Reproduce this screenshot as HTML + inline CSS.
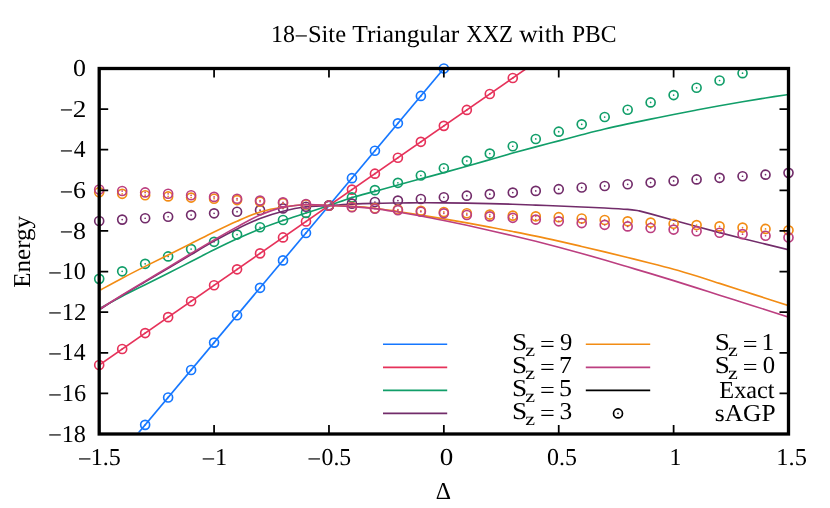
<!DOCTYPE html>
<html><head><meta charset="utf-8"><title>18-Site Triangular XXZ with PBC</title>
<style>
html,body{margin:0;padding:0;background:#fff;}
svg{display:block;will-change:transform;}
text{font-family:"Liberation Serif",serif;font-size:24.3px;fill:#000;text-rendering:geometricPrecision;}
</style></head><body>
<svg width="830" height="508" viewBox="0 0 830 508">
<defs><clipPath id="pc"><rect x="100.7" y="70.0" width="686.30" height="362.50"/></clipPath></defs>
<rect width="830" height="508" fill="#fff"/>
<path d="M134.09,438.06 L443.85,68.50" stroke="#1577ff" stroke-width="1.65" fill="none" clip-path="url(#pc)"/>
<circle cx="145.15" cy="424.86" r="4.5" fill="none" stroke="#1577ff" stroke-width="1.65"/><circle cx="145.15" cy="424.86" r="0.85" fill="#1577ff"/>
<circle cx="168.13" cy="397.45" r="4.5" fill="none" stroke="#1577ff" stroke-width="1.65"/><circle cx="168.13" cy="397.45" r="0.85" fill="#1577ff"/>
<circle cx="191.11" cy="370.04" r="4.5" fill="none" stroke="#1577ff" stroke-width="1.65"/><circle cx="191.11" cy="370.04" r="0.85" fill="#1577ff"/>
<circle cx="214.08" cy="342.62" r="4.5" fill="none" stroke="#1577ff" stroke-width="1.65"/><circle cx="214.08" cy="342.62" r="0.85" fill="#1577ff"/>
<circle cx="237.06" cy="315.21" r="4.5" fill="none" stroke="#1577ff" stroke-width="1.65"/><circle cx="237.06" cy="315.21" r="0.85" fill="#1577ff"/>
<circle cx="260.04" cy="287.80" r="4.5" fill="none" stroke="#1577ff" stroke-width="1.65"/><circle cx="260.04" cy="287.80" r="0.85" fill="#1577ff"/>
<circle cx="283.01" cy="260.39" r="4.5" fill="none" stroke="#1577ff" stroke-width="1.65"/><circle cx="283.01" cy="260.39" r="0.85" fill="#1577ff"/>
<circle cx="305.99" cy="232.97" r="4.5" fill="none" stroke="#1577ff" stroke-width="1.65"/><circle cx="305.99" cy="232.97" r="0.85" fill="#1577ff"/>
<circle cx="328.97" cy="205.56" r="4.5" fill="none" stroke="#1577ff" stroke-width="1.65"/><circle cx="328.97" cy="205.56" r="0.85" fill="#1577ff"/>
<circle cx="351.94" cy="178.15" r="4.5" fill="none" stroke="#1577ff" stroke-width="1.65"/><circle cx="351.94" cy="178.15" r="0.85" fill="#1577ff"/>
<circle cx="374.92" cy="150.74" r="4.5" fill="none" stroke="#1577ff" stroke-width="1.65"/><circle cx="374.92" cy="150.74" r="0.85" fill="#1577ff"/>
<circle cx="397.90" cy="123.33" r="4.5" fill="none" stroke="#1577ff" stroke-width="1.65"/><circle cx="397.90" cy="123.33" r="0.85" fill="#1577ff"/>
<circle cx="420.87" cy="95.91" r="4.5" fill="none" stroke="#1577ff" stroke-width="1.65"/><circle cx="420.87" cy="95.91" r="0.85" fill="#1577ff"/>
<circle cx="443.85" cy="68.50" r="4.5" fill="none" stroke="#1577ff" stroke-width="1.65"/><circle cx="443.85" cy="68.50" r="0.85" fill="#1577ff"/>
<path d="M99.20,364.96 L535.76,62.10" stroke="#e6325a" stroke-width="1.65" fill="none" clip-path="url(#pc)"/>
<circle cx="99.20" cy="364.96" r="4.5" fill="none" stroke="#e6325a" stroke-width="1.65"/><circle cx="99.20" cy="364.96" r="0.85" fill="#e6325a"/>
<circle cx="122.18" cy="349.02" r="4.5" fill="none" stroke="#e6325a" stroke-width="1.65"/><circle cx="122.18" cy="349.02" r="0.85" fill="#e6325a"/>
<circle cx="145.15" cy="333.08" r="4.5" fill="none" stroke="#e6325a" stroke-width="1.65"/><circle cx="145.15" cy="333.08" r="0.85" fill="#e6325a"/>
<circle cx="168.13" cy="317.14" r="4.5" fill="none" stroke="#e6325a" stroke-width="1.65"/><circle cx="168.13" cy="317.14" r="0.85" fill="#e6325a"/>
<circle cx="191.11" cy="301.20" r="4.5" fill="none" stroke="#e6325a" stroke-width="1.65"/><circle cx="191.11" cy="301.20" r="0.85" fill="#e6325a"/>
<circle cx="214.08" cy="285.26" r="4.5" fill="none" stroke="#e6325a" stroke-width="1.65"/><circle cx="214.08" cy="285.26" r="0.85" fill="#e6325a"/>
<circle cx="237.06" cy="269.32" r="4.5" fill="none" stroke="#e6325a" stroke-width="1.65"/><circle cx="237.06" cy="269.32" r="0.85" fill="#e6325a"/>
<circle cx="260.04" cy="253.38" r="4.5" fill="none" stroke="#e6325a" stroke-width="1.65"/><circle cx="260.04" cy="253.38" r="0.85" fill="#e6325a"/>
<circle cx="283.01" cy="237.44" r="4.5" fill="none" stroke="#e6325a" stroke-width="1.65"/><circle cx="283.01" cy="237.44" r="0.85" fill="#e6325a"/>
<circle cx="305.99" cy="221.50" r="4.5" fill="none" stroke="#e6325a" stroke-width="1.65"/><circle cx="305.99" cy="221.50" r="0.85" fill="#e6325a"/>
<circle cx="328.97" cy="205.56" r="4.5" fill="none" stroke="#e6325a" stroke-width="1.65"/><circle cx="328.97" cy="205.56" r="0.85" fill="#e6325a"/>
<circle cx="351.94" cy="189.62" r="4.5" fill="none" stroke="#e6325a" stroke-width="1.65"/><circle cx="351.94" cy="189.62" r="0.85" fill="#e6325a"/>
<circle cx="374.92" cy="173.68" r="4.5" fill="none" stroke="#e6325a" stroke-width="1.65"/><circle cx="374.92" cy="173.68" r="0.85" fill="#e6325a"/>
<circle cx="397.90" cy="157.74" r="4.5" fill="none" stroke="#e6325a" stroke-width="1.65"/><circle cx="397.90" cy="157.74" r="0.85" fill="#e6325a"/>
<circle cx="420.87" cy="141.80" r="4.5" fill="none" stroke="#e6325a" stroke-width="1.65"/><circle cx="420.87" cy="141.80" r="0.85" fill="#e6325a"/>
<circle cx="443.85" cy="125.86" r="4.5" fill="none" stroke="#e6325a" stroke-width="1.65"/><circle cx="443.85" cy="125.86" r="0.85" fill="#e6325a"/>
<circle cx="466.83" cy="109.92" r="4.5" fill="none" stroke="#e6325a" stroke-width="1.65"/><circle cx="466.83" cy="109.92" r="0.85" fill="#e6325a"/>
<circle cx="489.80" cy="93.98" r="4.5" fill="none" stroke="#e6325a" stroke-width="1.65"/><circle cx="489.80" cy="93.98" r="0.85" fill="#e6325a"/>
<circle cx="512.78" cy="78.04" r="4.5" fill="none" stroke="#e6325a" stroke-width="1.65"/><circle cx="512.78" cy="78.04" r="0.85" fill="#e6325a"/>
<path d="M99.20,308.71 C103.03,306.65 114.52,300.32 122.18,296.33 C129.84,292.33 137.49,288.59 145.15,284.75 C152.81,280.92 160.47,277.21 168.13,273.33 C175.79,269.46 183.45,265.44 191.11,261.50 C198.77,257.57 206.42,253.52 214.08,249.73 C221.74,245.94 229.40,242.23 237.06,238.76 C244.72,235.29 252.38,231.94 260.04,228.91 C267.70,225.88 275.35,223.23 283.01,220.59 C290.67,217.95 298.33,215.58 305.99,213.08 C313.65,210.57 321.31,208.13 328.97,205.56 C336.63,202.99 344.28,200.01 351.94,197.64 C359.60,195.27 367.26,193.45 374.92,191.35 C382.58,189.25 390.24,187.14 397.90,185.05 C405.56,182.96 413.21,180.88 420.87,178.81 C428.53,176.74 436.19,174.71 443.85,172.62 C451.51,170.53 459.17,168.43 466.83,166.27 C474.49,164.11 482.14,161.87 489.80,159.67 C497.46,157.47 505.12,155.21 512.78,153.07 C520.44,150.93 528.10,148.87 535.76,146.83 C543.42,144.79 551.07,142.84 558.73,140.84 C566.39,138.83 574.05,136.77 581.71,134.80 C589.37,132.83 597.03,130.83 604.69,129.01 C612.35,127.19 620.00,125.52 627.66,123.88 C635.32,122.24 642.98,120.73 650.64,119.16 C658.30,117.60 665.96,116.01 673.62,114.49 C681.28,112.97 688.93,111.47 696.59,110.02 C704.25,108.58 711.91,107.19 719.57,105.81 C727.23,104.43 734.89,103.05 742.55,101.75 C750.21,100.45 757.86,99.20 765.52,97.99 C773.18,96.78 784.67,95.07 788.50,94.49" fill="none" stroke="#119e69" stroke-width="1.65" stroke-linejoin="round" clip-path="url(#pc)"/>
<circle cx="99.20" cy="278.87" r="4.5" fill="none" stroke="#119e69" stroke-width="1.65"/><circle cx="99.20" cy="278.87" r="0.85" fill="#119e69"/>
<circle cx="122.18" cy="271.35" r="4.5" fill="none" stroke="#119e69" stroke-width="1.65"/><circle cx="122.18" cy="271.35" r="0.85" fill="#119e69"/>
<circle cx="145.15" cy="263.84" r="4.5" fill="none" stroke="#119e69" stroke-width="1.65"/><circle cx="145.15" cy="263.84" r="0.85" fill="#119e69"/>
<circle cx="168.13" cy="256.43" r="4.5" fill="none" stroke="#119e69" stroke-width="1.65"/><circle cx="168.13" cy="256.43" r="0.85" fill="#119e69"/>
<circle cx="191.11" cy="249.12" r="4.5" fill="none" stroke="#119e69" stroke-width="1.65"/><circle cx="191.11" cy="249.12" r="0.85" fill="#119e69"/>
<circle cx="214.08" cy="241.81" r="4.5" fill="none" stroke="#119e69" stroke-width="1.65"/><circle cx="214.08" cy="241.81" r="0.85" fill="#119e69"/>
<circle cx="237.06" cy="234.55" r="4.5" fill="none" stroke="#119e69" stroke-width="1.65"/><circle cx="237.06" cy="234.55" r="0.85" fill="#119e69"/>
<circle cx="260.04" cy="227.29" r="4.5" fill="none" stroke="#119e69" stroke-width="1.65"/><circle cx="260.04" cy="227.29" r="0.85" fill="#119e69"/>
<circle cx="283.01" cy="220.03" r="4.5" fill="none" stroke="#119e69" stroke-width="1.65"/><circle cx="283.01" cy="220.03" r="0.85" fill="#119e69"/>
<circle cx="305.99" cy="212.87" r="4.5" fill="none" stroke="#119e69" stroke-width="1.65"/><circle cx="305.99" cy="212.87" r="0.85" fill="#119e69"/>
<circle cx="328.97" cy="205.56" r="4.5" fill="none" stroke="#119e69" stroke-width="1.65"/><circle cx="328.97" cy="205.56" r="0.85" fill="#119e69"/>
<circle cx="351.94" cy="197.44" r="4.5" fill="none" stroke="#119e69" stroke-width="1.65"/><circle cx="351.94" cy="197.44" r="0.85" fill="#119e69"/>
<circle cx="374.92" cy="190.13" r="4.5" fill="none" stroke="#119e69" stroke-width="1.65"/><circle cx="374.92" cy="190.13" r="0.85" fill="#119e69"/>
<circle cx="397.90" cy="182.82" r="4.5" fill="none" stroke="#119e69" stroke-width="1.65"/><circle cx="397.90" cy="182.82" r="0.85" fill="#119e69"/>
<circle cx="420.87" cy="175.51" r="4.5" fill="none" stroke="#119e69" stroke-width="1.65"/><circle cx="420.87" cy="175.51" r="0.85" fill="#119e69"/>
<circle cx="443.85" cy="168.20" r="4.5" fill="none" stroke="#119e69" stroke-width="1.65"/><circle cx="443.85" cy="168.20" r="0.85" fill="#119e69"/>
<circle cx="466.83" cy="160.89" r="4.5" fill="none" stroke="#119e69" stroke-width="1.65"/><circle cx="466.83" cy="160.89" r="0.85" fill="#119e69"/>
<circle cx="489.80" cy="153.58" r="4.5" fill="none" stroke="#119e69" stroke-width="1.65"/><circle cx="489.80" cy="153.58" r="0.85" fill="#119e69"/>
<circle cx="512.78" cy="146.27" r="4.5" fill="none" stroke="#119e69" stroke-width="1.65"/><circle cx="512.78" cy="146.27" r="0.85" fill="#119e69"/>
<circle cx="535.76" cy="138.96" r="4.5" fill="none" stroke="#119e69" stroke-width="1.65"/><circle cx="535.76" cy="138.96" r="0.85" fill="#119e69"/>
<circle cx="558.73" cy="131.65" r="4.5" fill="none" stroke="#119e69" stroke-width="1.65"/><circle cx="558.73" cy="131.65" r="0.85" fill="#119e69"/>
<circle cx="581.71" cy="124.34" r="4.5" fill="none" stroke="#119e69" stroke-width="1.65"/><circle cx="581.71" cy="124.34" r="0.85" fill="#119e69"/>
<circle cx="604.69" cy="117.03" r="4.5" fill="none" stroke="#119e69" stroke-width="1.65"/><circle cx="604.69" cy="117.03" r="0.85" fill="#119e69"/>
<circle cx="627.66" cy="109.72" r="4.5" fill="none" stroke="#119e69" stroke-width="1.65"/><circle cx="627.66" cy="109.72" r="0.85" fill="#119e69"/>
<circle cx="650.64" cy="102.41" r="4.5" fill="none" stroke="#119e69" stroke-width="1.65"/><circle cx="650.64" cy="102.41" r="0.85" fill="#119e69"/>
<circle cx="673.62" cy="95.10" r="4.5" fill="none" stroke="#119e69" stroke-width="1.65"/><circle cx="673.62" cy="95.10" r="0.85" fill="#119e69"/>
<circle cx="696.59" cy="87.79" r="4.5" fill="none" stroke="#119e69" stroke-width="1.65"/><circle cx="696.59" cy="87.79" r="0.85" fill="#119e69"/>
<circle cx="719.57" cy="80.48" r="4.5" fill="none" stroke="#119e69" stroke-width="1.65"/><circle cx="719.57" cy="80.48" r="0.85" fill="#119e69"/>
<circle cx="742.55" cy="73.17" r="4.5" fill="none" stroke="#119e69" stroke-width="1.65"/><circle cx="742.55" cy="73.17" r="0.85" fill="#119e69"/>
<path d="M99.20,309.73 C103.03,307.34 114.52,300.08 122.18,295.41 C129.84,290.75 137.49,286.29 145.15,281.76 C152.81,277.23 160.47,272.79 168.13,268.26 C175.79,263.72 183.45,259.08 191.11,254.55 C198.77,250.02 206.42,245.37 214.08,241.10 C221.74,236.82 229.40,232.67 237.06,228.91 C244.72,225.16 252.38,221.50 260.04,218.56 C267.70,215.61 275.35,213.21 283.01,211.25 C290.67,209.29 298.33,207.73 305.99,206.78 C313.65,205.83 321.31,206.00 328.97,205.56 C336.63,205.12 344.28,204.51 351.94,204.14 C359.60,203.77 367.26,203.52 374.92,203.33 C382.58,203.13 390.24,203.07 397.90,202.97 C405.56,202.88 413.21,202.80 420.87,202.77 C428.53,202.75 436.19,202.76 443.85,202.82 C451.51,202.88 459.17,203.00 466.83,203.13 C474.49,203.25 482.14,203.40 489.80,203.58 C497.46,203.77 505.12,203.99 512.78,204.24 C520.44,204.50 528.10,204.81 535.76,205.11 C543.42,205.40 551.07,205.71 558.73,206.02 C566.39,206.33 574.05,206.65 581.71,206.98 C589.37,207.31 597.03,207.59 604.69,208.00 C612.35,208.41 621.92,208.95 627.66,209.42 C633.41,209.89 637.24,210.61 639.15,210.84 L650.64,213.89 L673.62,220.18 L696.59,226.58 L719.57,232.67 L742.55,238.46 L765.52,244.14 L788.50,249.83" fill="none" stroke="#722c6a" stroke-width="1.65" stroke-linejoin="round" clip-path="url(#pc)"/>
<circle cx="99.20" cy="220.99" r="4.5" fill="none" stroke="#722c6a" stroke-width="1.65"/><circle cx="99.20" cy="220.99" r="0.85" fill="#722c6a"/>
<circle cx="122.18" cy="219.62" r="4.5" fill="none" stroke="#722c6a" stroke-width="1.65"/><circle cx="122.18" cy="219.62" r="0.85" fill="#722c6a"/>
<circle cx="145.15" cy="218.25" r="4.5" fill="none" stroke="#722c6a" stroke-width="1.65"/><circle cx="145.15" cy="218.25" r="0.85" fill="#722c6a"/>
<circle cx="168.13" cy="216.73" r="4.5" fill="none" stroke="#722c6a" stroke-width="1.65"/><circle cx="168.13" cy="216.73" r="0.85" fill="#722c6a"/>
<circle cx="191.11" cy="215.06" r="4.5" fill="none" stroke="#722c6a" stroke-width="1.65"/><circle cx="191.11" cy="215.06" r="0.85" fill="#722c6a"/>
<circle cx="214.08" cy="213.33" r="4.5" fill="none" stroke="#722c6a" stroke-width="1.65"/><circle cx="214.08" cy="213.33" r="0.85" fill="#722c6a"/>
<circle cx="237.06" cy="211.70" r="4.5" fill="none" stroke="#722c6a" stroke-width="1.65"/><circle cx="237.06" cy="211.70" r="0.85" fill="#722c6a"/>
<circle cx="260.04" cy="210.13" r="4.5" fill="none" stroke="#722c6a" stroke-width="1.65"/><circle cx="260.04" cy="210.13" r="0.85" fill="#722c6a"/>
<circle cx="283.01" cy="208.41" r="4.5" fill="none" stroke="#722c6a" stroke-width="1.65"/><circle cx="283.01" cy="208.41" r="0.85" fill="#722c6a"/>
<circle cx="305.99" cy="206.78" r="4.5" fill="none" stroke="#722c6a" stroke-width="1.65"/><circle cx="305.99" cy="206.78" r="0.85" fill="#722c6a"/>
<circle cx="328.97" cy="205.31" r="4.5" fill="none" stroke="#722c6a" stroke-width="1.65"/><circle cx="328.97" cy="205.31" r="0.85" fill="#722c6a"/>
<circle cx="351.94" cy="203.63" r="4.5" fill="none" stroke="#722c6a" stroke-width="1.65"/><circle cx="351.94" cy="203.63" r="0.85" fill="#722c6a"/>
<circle cx="374.92" cy="202.01" r="4.5" fill="none" stroke="#722c6a" stroke-width="1.65"/><circle cx="374.92" cy="202.01" r="0.85" fill="#722c6a"/>
<circle cx="397.90" cy="200.59" r="4.5" fill="none" stroke="#722c6a" stroke-width="1.65"/><circle cx="397.90" cy="200.59" r="0.85" fill="#722c6a"/>
<circle cx="420.87" cy="199.01" r="4.5" fill="none" stroke="#722c6a" stroke-width="1.65"/><circle cx="420.87" cy="199.01" r="0.85" fill="#722c6a"/>
<circle cx="443.85" cy="197.29" r="4.5" fill="none" stroke="#722c6a" stroke-width="1.65"/><circle cx="443.85" cy="197.29" r="0.85" fill="#722c6a"/>
<circle cx="466.83" cy="195.66" r="4.5" fill="none" stroke="#722c6a" stroke-width="1.65"/><circle cx="466.83" cy="195.66" r="0.85" fill="#722c6a"/>
<circle cx="489.80" cy="194.14" r="4.5" fill="none" stroke="#722c6a" stroke-width="1.65"/><circle cx="489.80" cy="194.14" r="0.85" fill="#722c6a"/>
<circle cx="512.78" cy="192.57" r="4.5" fill="none" stroke="#722c6a" stroke-width="1.65"/><circle cx="512.78" cy="192.57" r="0.85" fill="#722c6a"/>
<circle cx="535.76" cy="190.89" r="4.5" fill="none" stroke="#722c6a" stroke-width="1.65"/><circle cx="535.76" cy="190.89" r="0.85" fill="#722c6a"/>
<circle cx="558.73" cy="189.17" r="4.5" fill="none" stroke="#722c6a" stroke-width="1.65"/><circle cx="558.73" cy="189.17" r="0.85" fill="#722c6a"/>
<circle cx="581.71" cy="187.54" r="4.5" fill="none" stroke="#722c6a" stroke-width="1.65"/><circle cx="581.71" cy="187.54" r="0.85" fill="#722c6a"/>
<circle cx="604.69" cy="185.97" r="4.5" fill="none" stroke="#722c6a" stroke-width="1.65"/><circle cx="604.69" cy="185.97" r="0.85" fill="#722c6a"/>
<circle cx="627.66" cy="184.29" r="4.5" fill="none" stroke="#722c6a" stroke-width="1.65"/><circle cx="627.66" cy="184.29" r="0.85" fill="#722c6a"/>
<circle cx="650.64" cy="182.57" r="4.5" fill="none" stroke="#722c6a" stroke-width="1.65"/><circle cx="650.64" cy="182.57" r="0.85" fill="#722c6a"/>
<circle cx="673.62" cy="180.94" r="4.5" fill="none" stroke="#722c6a" stroke-width="1.65"/><circle cx="673.62" cy="180.94" r="0.85" fill="#722c6a"/>
<circle cx="696.59" cy="179.42" r="4.5" fill="none" stroke="#722c6a" stroke-width="1.65"/><circle cx="696.59" cy="179.42" r="0.85" fill="#722c6a"/>
<circle cx="719.57" cy="177.85" r="4.5" fill="none" stroke="#722c6a" stroke-width="1.65"/><circle cx="719.57" cy="177.85" r="0.85" fill="#722c6a"/>
<circle cx="742.55" cy="176.27" r="4.5" fill="none" stroke="#722c6a" stroke-width="1.65"/><circle cx="742.55" cy="176.27" r="0.85" fill="#722c6a"/>
<circle cx="765.52" cy="174.65" r="4.5" fill="none" stroke="#722c6a" stroke-width="1.65"/><circle cx="765.52" cy="174.65" r="0.85" fill="#722c6a"/>
<circle cx="788.50" cy="172.87" r="4.5" fill="none" stroke="#722c6a" stroke-width="1.65"/><circle cx="788.50" cy="172.87" r="0.85" fill="#722c6a"/>
<path d="M99.20,290.64 C103.03,288.57 114.52,282.25 122.18,278.21 C129.84,274.16 137.49,270.26 145.15,266.38 C152.81,262.49 160.47,258.71 168.13,254.91 C175.79,251.10 183.45,247.36 191.11,243.53 C198.77,239.71 206.42,235.68 214.08,231.96 C221.74,228.24 229.40,224.51 237.06,221.20 C244.72,217.88 252.38,214.43 260.04,212.06 C267.70,209.69 275.35,208.20 283.01,206.98 C290.67,205.77 298.33,204.99 305.99,204.75 C313.65,204.51 321.31,205.29 328.97,205.56 C336.63,205.83 344.28,205.93 351.94,206.37 C359.60,206.81 367.26,207.36 374.92,208.20 C382.58,209.05 390.24,210.31 397.90,211.45 C405.56,212.59 413.21,213.82 420.87,215.06 C428.53,216.29 436.19,217.56 443.85,218.86 C451.51,220.17 459.17,221.49 466.83,222.87 C474.49,224.25 482.14,225.70 489.80,227.14 C497.46,228.58 505.12,230.01 512.78,231.50 C520.44,232.99 528.10,234.47 535.76,236.07 C543.42,237.67 551.07,239.37 558.73,241.10 C566.39,242.82 574.05,244.63 581.71,246.43 C589.37,248.23 597.03,250.06 604.69,251.91 C612.35,253.76 620.00,255.66 627.66,257.54 C635.32,259.43 642.98,261.28 650.64,263.23 C658.30,265.18 665.96,267.13 673.62,269.27 C681.28,271.41 688.93,273.72 696.59,276.07 C704.25,278.43 711.91,280.93 719.57,283.38 C727.23,285.84 734.89,288.32 742.55,290.80 C750.21,293.27 757.86,295.73 765.52,298.21 C773.18,300.69 784.67,304.43 788.50,305.67" fill="none" stroke="#f28c14" stroke-width="1.65" stroke-linejoin="round" clip-path="url(#pc)"/>
<circle cx="99.20" cy="192.16" r="4.5" fill="none" stroke="#f28c14" stroke-width="1.65"/><circle cx="99.20" cy="192.16" r="0.85" fill="#f28c14"/>
<circle cx="122.18" cy="193.84" r="4.5" fill="none" stroke="#f28c14" stroke-width="1.65"/><circle cx="122.18" cy="193.84" r="0.85" fill="#f28c14"/>
<circle cx="145.15" cy="195.21" r="4.5" fill="none" stroke="#f28c14" stroke-width="1.65"/><circle cx="145.15" cy="195.21" r="0.85" fill="#f28c14"/>
<circle cx="168.13" cy="196.43" r="4.5" fill="none" stroke="#f28c14" stroke-width="1.65"/><circle cx="168.13" cy="196.43" r="0.85" fill="#f28c14"/>
<circle cx="191.11" cy="197.59" r="4.5" fill="none" stroke="#f28c14" stroke-width="1.65"/><circle cx="191.11" cy="197.59" r="0.85" fill="#f28c14"/>
<circle cx="214.08" cy="198.71" r="4.5" fill="none" stroke="#f28c14" stroke-width="1.65"/><circle cx="214.08" cy="198.71" r="0.85" fill="#f28c14"/>
<circle cx="237.06" cy="200.08" r="4.5" fill="none" stroke="#f28c14" stroke-width="1.65"/><circle cx="237.06" cy="200.08" r="0.85" fill="#f28c14"/>
<circle cx="260.04" cy="201.70" r="4.5" fill="none" stroke="#f28c14" stroke-width="1.65"/><circle cx="260.04" cy="201.70" r="0.85" fill="#f28c14"/>
<circle cx="283.01" cy="203.18" r="4.5" fill="none" stroke="#f28c14" stroke-width="1.65"/><circle cx="283.01" cy="203.18" r="0.85" fill="#f28c14"/>
<circle cx="305.99" cy="204.45" r="4.5" fill="none" stroke="#f28c14" stroke-width="1.65"/><circle cx="305.99" cy="204.45" r="0.85" fill="#f28c14"/>
<circle cx="328.97" cy="205.66" r="4.5" fill="none" stroke="#f28c14" stroke-width="1.65"/><circle cx="328.97" cy="205.66" r="0.85" fill="#f28c14"/>
<circle cx="351.94" cy="206.93" r="4.5" fill="none" stroke="#f28c14" stroke-width="1.65"/><circle cx="351.94" cy="206.93" r="0.85" fill="#f28c14"/>
<circle cx="374.92" cy="208.25" r="4.5" fill="none" stroke="#f28c14" stroke-width="1.65"/><circle cx="374.92" cy="208.25" r="0.85" fill="#f28c14"/>
<circle cx="397.90" cy="209.57" r="4.5" fill="none" stroke="#f28c14" stroke-width="1.65"/><circle cx="397.90" cy="209.57" r="0.85" fill="#f28c14"/>
<circle cx="420.87" cy="210.79" r="4.5" fill="none" stroke="#f28c14" stroke-width="1.65"/><circle cx="420.87" cy="210.79" r="0.85" fill="#f28c14"/>
<circle cx="443.85" cy="211.96" r="4.5" fill="none" stroke="#f28c14" stroke-width="1.65"/><circle cx="443.85" cy="211.96" r="0.85" fill="#f28c14"/>
<circle cx="466.83" cy="213.28" r="4.5" fill="none" stroke="#f28c14" stroke-width="1.65"/><circle cx="466.83" cy="213.28" r="0.85" fill="#f28c14"/>
<circle cx="489.80" cy="214.60" r="4.5" fill="none" stroke="#f28c14" stroke-width="1.65"/><circle cx="489.80" cy="214.60" r="0.85" fill="#f28c14"/>
<circle cx="512.78" cy="215.61" r="4.5" fill="none" stroke="#f28c14" stroke-width="1.65"/><circle cx="512.78" cy="215.61" r="0.85" fill="#f28c14"/>
<circle cx="535.76" cy="216.32" r="4.5" fill="none" stroke="#f28c14" stroke-width="1.65"/><circle cx="535.76" cy="216.32" r="0.85" fill="#f28c14"/>
<circle cx="558.73" cy="217.19" r="4.5" fill="none" stroke="#f28c14" stroke-width="1.65"/><circle cx="558.73" cy="217.19" r="0.85" fill="#f28c14"/>
<circle cx="581.71" cy="218.51" r="4.5" fill="none" stroke="#f28c14" stroke-width="1.65"/><circle cx="581.71" cy="218.51" r="0.85" fill="#f28c14"/>
<circle cx="604.69" cy="219.98" r="4.5" fill="none" stroke="#f28c14" stroke-width="1.65"/><circle cx="604.69" cy="219.98" r="0.85" fill="#f28c14"/>
<circle cx="627.66" cy="221.35" r="4.5" fill="none" stroke="#f28c14" stroke-width="1.65"/><circle cx="627.66" cy="221.35" r="0.85" fill="#f28c14"/>
<circle cx="650.64" cy="222.57" r="4.5" fill="none" stroke="#f28c14" stroke-width="1.65"/><circle cx="650.64" cy="222.57" r="0.85" fill="#f28c14"/>
<circle cx="673.62" cy="223.74" r="4.5" fill="none" stroke="#f28c14" stroke-width="1.65"/><circle cx="673.62" cy="223.74" r="0.85" fill="#f28c14"/>
<circle cx="696.59" cy="225.06" r="4.5" fill="none" stroke="#f28c14" stroke-width="1.65"/><circle cx="696.59" cy="225.06" r="0.85" fill="#f28c14"/>
<circle cx="719.57" cy="226.38" r="4.5" fill="none" stroke="#f28c14" stroke-width="1.65"/><circle cx="719.57" cy="226.38" r="0.85" fill="#f28c14"/>
<circle cx="742.55" cy="227.59" r="4.5" fill="none" stroke="#f28c14" stroke-width="1.65"/><circle cx="742.55" cy="227.59" r="0.85" fill="#f28c14"/>
<circle cx="765.52" cy="228.91" r="4.5" fill="none" stroke="#f28c14" stroke-width="1.65"/><circle cx="765.52" cy="228.91" r="0.85" fill="#f28c14"/>
<circle cx="788.50" cy="230.34" r="4.5" fill="none" stroke="#f28c14" stroke-width="1.65"/><circle cx="788.50" cy="230.34" r="0.85" fill="#f28c14"/>
<path d="M99.20,309.32 C103.03,306.93 114.52,299.66 122.18,294.96 C129.84,290.25 137.49,285.70 145.15,281.10 C152.81,276.50 160.47,271.94 168.13,267.34 C175.79,262.74 183.45,258.06 191.11,253.48 C198.77,248.91 206.42,244.31 214.08,239.88 C221.74,235.45 229.40,231.01 237.06,226.88 C244.72,222.75 252.38,218.35 260.04,215.11 C267.70,211.86 275.35,209.12 283.01,207.39 C290.67,205.66 298.33,205.05 305.99,204.75 C313.65,204.45 321.31,205.26 328.97,205.56 C336.63,205.87 344.28,206.07 351.94,206.58 C359.60,207.09 367.26,207.69 374.92,208.61 C382.58,209.52 390.24,210.83 397.90,212.06 C405.56,213.30 413.21,214.62 420.87,216.02 C428.53,217.42 436.19,218.94 443.85,220.49 C451.51,222.04 459.17,223.65 466.83,225.31 C474.49,226.97 482.14,228.69 489.80,230.44 C497.46,232.18 505.12,233.96 512.78,235.77 C520.44,237.58 528.10,239.40 535.76,241.30 C543.42,243.20 551.07,245.17 558.73,247.19 C566.39,249.21 574.05,251.29 581.71,253.43 C589.37,255.57 597.03,257.80 604.69,260.03 C612.35,262.27 620.00,264.57 627.66,266.83 C635.32,269.10 642.98,271.34 650.64,273.64 C658.30,275.93 665.96,278.22 673.62,280.59 C681.28,282.96 688.93,285.41 696.59,287.85 C704.25,290.29 711.91,292.77 719.57,295.21 C727.23,297.65 734.89,300.05 742.55,302.47 C750.21,304.89 757.86,307.30 765.52,309.73 C773.18,312.16 784.67,315.82 788.50,317.04" fill="none" stroke="#bc3f80" stroke-width="1.65" stroke-linejoin="round" clip-path="url(#pc)"/>
<circle cx="99.20" cy="189.52" r="4.5" fill="none" stroke="#bc3f80" stroke-width="1.65"/><circle cx="99.20" cy="189.52" r="0.85" fill="#bc3f80"/>
<circle cx="122.18" cy="191.04" r="4.5" fill="none" stroke="#bc3f80" stroke-width="1.65"/><circle cx="122.18" cy="191.04" r="0.85" fill="#bc3f80"/>
<circle cx="145.15" cy="192.41" r="4.5" fill="none" stroke="#bc3f80" stroke-width="1.65"/><circle cx="145.15" cy="192.41" r="0.85" fill="#bc3f80"/>
<circle cx="168.13" cy="193.79" r="4.5" fill="none" stroke="#bc3f80" stroke-width="1.65"/><circle cx="168.13" cy="193.79" r="0.85" fill="#bc3f80"/>
<circle cx="191.11" cy="195.26" r="4.5" fill="none" stroke="#bc3f80" stroke-width="1.65"/><circle cx="191.11" cy="195.26" r="0.85" fill="#bc3f80"/>
<circle cx="214.08" cy="196.88" r="4.5" fill="none" stroke="#bc3f80" stroke-width="1.65"/><circle cx="214.08" cy="196.88" r="0.85" fill="#bc3f80"/>
<circle cx="237.06" cy="198.71" r="4.5" fill="none" stroke="#bc3f80" stroke-width="1.65"/><circle cx="237.06" cy="198.71" r="0.85" fill="#bc3f80"/>
<circle cx="260.04" cy="200.59" r="4.5" fill="none" stroke="#bc3f80" stroke-width="1.65"/><circle cx="260.04" cy="200.59" r="0.85" fill="#bc3f80"/>
<circle cx="283.01" cy="202.36" r="4.5" fill="none" stroke="#bc3f80" stroke-width="1.65"/><circle cx="283.01" cy="202.36" r="0.85" fill="#bc3f80"/>
<circle cx="305.99" cy="204.04" r="4.5" fill="none" stroke="#bc3f80" stroke-width="1.65"/><circle cx="305.99" cy="204.04" r="0.85" fill="#bc3f80"/>
<circle cx="328.97" cy="205.66" r="4.5" fill="none" stroke="#bc3f80" stroke-width="1.65"/><circle cx="328.97" cy="205.66" r="0.85" fill="#bc3f80"/>
<circle cx="351.94" cy="207.24" r="4.5" fill="none" stroke="#bc3f80" stroke-width="1.65"/><circle cx="351.94" cy="207.24" r="0.85" fill="#bc3f80"/>
<circle cx="374.92" cy="208.71" r="4.5" fill="none" stroke="#bc3f80" stroke-width="1.65"/><circle cx="374.92" cy="208.71" r="0.85" fill="#bc3f80"/>
<circle cx="397.90" cy="210.18" r="4.5" fill="none" stroke="#bc3f80" stroke-width="1.65"/><circle cx="397.90" cy="210.18" r="0.85" fill="#bc3f80"/>
<circle cx="420.87" cy="211.70" r="4.5" fill="none" stroke="#bc3f80" stroke-width="1.65"/><circle cx="420.87" cy="211.70" r="0.85" fill="#bc3f80"/>
<circle cx="443.85" cy="213.33" r="4.5" fill="none" stroke="#bc3f80" stroke-width="1.65"/><circle cx="443.85" cy="213.33" r="0.85" fill="#bc3f80"/>
<circle cx="466.83" cy="214.95" r="4.5" fill="none" stroke="#bc3f80" stroke-width="1.65"/><circle cx="466.83" cy="214.95" r="0.85" fill="#bc3f80"/>
<circle cx="489.80" cy="216.38" r="4.5" fill="none" stroke="#bc3f80" stroke-width="1.65"/><circle cx="489.80" cy="216.38" r="0.85" fill="#bc3f80"/>
<circle cx="512.78" cy="217.85" r="4.5" fill="none" stroke="#bc3f80" stroke-width="1.65"/><circle cx="512.78" cy="217.85" r="0.85" fill="#bc3f80"/>
<circle cx="535.76" cy="219.57" r="4.5" fill="none" stroke="#bc3f80" stroke-width="1.65"/><circle cx="535.76" cy="219.57" r="0.85" fill="#bc3f80"/>
<circle cx="558.73" cy="221.35" r="4.5" fill="none" stroke="#bc3f80" stroke-width="1.65"/><circle cx="558.73" cy="221.35" r="0.85" fill="#bc3f80"/>
<circle cx="581.71" cy="223.08" r="4.5" fill="none" stroke="#bc3f80" stroke-width="1.65"/><circle cx="581.71" cy="223.08" r="0.85" fill="#bc3f80"/>
<circle cx="604.69" cy="224.80" r="4.5" fill="none" stroke="#bc3f80" stroke-width="1.65"/><circle cx="604.69" cy="224.80" r="0.85" fill="#bc3f80"/>
<circle cx="627.66" cy="226.43" r="4.5" fill="none" stroke="#bc3f80" stroke-width="1.65"/><circle cx="627.66" cy="226.43" r="0.85" fill="#bc3f80"/>
<circle cx="650.64" cy="227.95" r="4.5" fill="none" stroke="#bc3f80" stroke-width="1.65"/><circle cx="650.64" cy="227.95" r="0.85" fill="#bc3f80"/>
<circle cx="673.62" cy="229.57" r="4.5" fill="none" stroke="#bc3f80" stroke-width="1.65"/><circle cx="673.62" cy="229.57" r="0.85" fill="#bc3f80"/>
<circle cx="696.59" cy="231.25" r="4.5" fill="none" stroke="#bc3f80" stroke-width="1.65"/><circle cx="696.59" cy="231.25" r="0.85" fill="#bc3f80"/>
<circle cx="719.57" cy="232.72" r="4.5" fill="none" stroke="#bc3f80" stroke-width="1.65"/><circle cx="719.57" cy="232.72" r="0.85" fill="#bc3f80"/>
<circle cx="742.55" cy="234.14" r="4.5" fill="none" stroke="#bc3f80" stroke-width="1.65"/><circle cx="742.55" cy="234.14" r="0.85" fill="#bc3f80"/>
<circle cx="765.52" cy="235.77" r="4.5" fill="none" stroke="#bc3f80" stroke-width="1.65"/><circle cx="765.52" cy="235.77" r="0.85" fill="#bc3f80"/>
<circle cx="788.50" cy="237.44" r="4.5" fill="none" stroke="#bc3f80" stroke-width="1.65"/><circle cx="788.50" cy="237.44" r="0.85" fill="#bc3f80"/>
<path d="M383,344.2 H447.2" stroke="#1577ff" stroke-width="1.65"/>
<path d="M383,367.3 H447.2" stroke="#e6325a" stroke-width="1.65"/>
<path d="M383,390.3 H447.2" stroke="#119e69" stroke-width="1.65"/>
<path d="M383,413.4 H447.2" stroke="#722c6a" stroke-width="1.65"/>
<path d="M585.8,344.2 H650.2" stroke="#f28c14" stroke-width="1.65"/>
<path d="M585.8,367.3 H650.2" stroke="#bc3f80" stroke-width="1.65"/>
<path d="M585.8,390.3 H650.2" stroke="#000" stroke-width="1.65"/>
<circle cx="618" cy="413.4" r="4.5" fill="none" stroke="#000" stroke-width="1.65"/><circle cx="618" cy="413.4" r="0.85" fill="#000"/>
<path d="M99.20,434.0 v-9 M99.20,68.5 v9" stroke="#000" stroke-width="1.75"/>
<path d="M214.08,434.0 v-9 M214.08,68.5 v9" stroke="#000" stroke-width="1.75"/>
<path d="M328.97,434.0 v-9 M328.97,68.5 v9" stroke="#000" stroke-width="1.75"/>
<path d="M443.85,434.0 v-9 M443.85,68.5 v9" stroke="#000" stroke-width="1.75"/>
<path d="M558.73,434.0 v-9 M558.73,68.5 v9" stroke="#000" stroke-width="1.75"/>
<path d="M673.62,434.0 v-9 M673.62,68.5 v9" stroke="#000" stroke-width="1.75"/>
<path d="M788.50,434.0 v-9 M788.50,68.5 v9" stroke="#000" stroke-width="1.75"/>
<path d="M99.2,68.50 h9 M788.5,68.50 h-9" stroke="#000" stroke-width="1.75"/>
<path d="M99.2,109.11 h9 M788.5,109.11 h-9" stroke="#000" stroke-width="1.75"/>
<path d="M99.2,149.72 h9 M788.5,149.72 h-9" stroke="#000" stroke-width="1.75"/>
<path d="M99.2,190.33 h9 M788.5,190.33 h-9" stroke="#000" stroke-width="1.75"/>
<path d="M99.2,230.94 h9 M788.5,230.94 h-9" stroke="#000" stroke-width="1.75"/>
<path d="M99.2,271.56 h9 M788.5,271.56 h-9" stroke="#000" stroke-width="1.75"/>
<path d="M99.2,312.17 h9 M788.5,312.17 h-9" stroke="#000" stroke-width="1.75"/>
<path d="M99.2,352.78 h9 M788.5,352.78 h-9" stroke="#000" stroke-width="1.75"/>
<path d="M99.2,393.39 h9 M788.5,393.39 h-9" stroke="#000" stroke-width="1.75"/>
<path d="M99.2,434.00 h9 M788.5,434.00 h-9" stroke="#000" stroke-width="1.75"/>
<rect x="99.2" y="68.5" width="689.30" height="365.50" fill="none" stroke="#000" stroke-width="3.3"/>
<text x="271.09" y="41.90" textLength="23.96" lengthAdjust="spacingAndGlyphs">18</text>
<text x="307.92" y="41.90" textLength="38.17" lengthAdjust="spacingAndGlyphs">Site</text>
<text x="352.35" y="41.90" textLength="106.90" lengthAdjust="spacingAndGlyphs">Triangular</text>
<text x="466.22" y="41.90" textLength="46.80" lengthAdjust="spacingAndGlyphs">XXZ</text>
<text x="519.17" y="41.90" textLength="45.33" lengthAdjust="spacingAndGlyphs">with</text>
<text x="571.91" y="41.90" textLength="44.69" lengthAdjust="spacingAndGlyphs">PBC</text>
<text x="294.61" y="43.55" textLength="13.51" lengthAdjust="spacingAndGlyphs">−</text>
<text x="73.14" y="76.10" textLength="12.96" lengthAdjust="spacingAndGlyphs">0</text>
<text x="59.80" y="118.36" textLength="13.33" lengthAdjust="spacingAndGlyphs">−</text>
<text x="72.88" y="116.71" textLength="13.62" lengthAdjust="spacingAndGlyphs">2</text>
<text x="59.80" y="158.97" textLength="13.33" lengthAdjust="spacingAndGlyphs">−</text>
<text x="73.63" y="157.32" textLength="11.79" lengthAdjust="spacingAndGlyphs">4</text>
<text x="59.80" y="199.58" textLength="13.33" lengthAdjust="spacingAndGlyphs">−</text>
<text x="73.05" y="197.93" textLength="12.94" lengthAdjust="spacingAndGlyphs">6</text>
<text x="59.80" y="240.19" textLength="13.33" lengthAdjust="spacingAndGlyphs">−</text>
<text x="73.06" y="238.54" textLength="13.00" lengthAdjust="spacingAndGlyphs">8</text>
<text x="48.14" y="280.81" textLength="13.94" lengthAdjust="spacingAndGlyphs">−</text>
<text x="61.72" y="279.16" textLength="24.26" lengthAdjust="spacingAndGlyphs">10</text>
<text x="48.14" y="321.42" textLength="13.94" lengthAdjust="spacingAndGlyphs">−</text>
<text x="61.69" y="319.77" textLength="24.66" lengthAdjust="spacingAndGlyphs">12</text>
<text x="48.14" y="362.03" textLength="13.94" lengthAdjust="spacingAndGlyphs">−</text>
<text x="61.87" y="360.38" textLength="23.62" lengthAdjust="spacingAndGlyphs">14</text>
<text x="48.14" y="402.64" textLength="13.94" lengthAdjust="spacingAndGlyphs">−</text>
<text x="61.71" y="400.99" textLength="24.37" lengthAdjust="spacingAndGlyphs">16</text>
<text x="48.14" y="443.25" textLength="13.94" lengthAdjust="spacingAndGlyphs">−</text>
<text x="61.69" y="441.60" textLength="24.28" lengthAdjust="spacingAndGlyphs">18</text>
<text x="77.74" y="466.65" textLength="13.88" lengthAdjust="spacingAndGlyphs">−</text>
<text x="90.73" y="465.00" textLength="30.13" lengthAdjust="spacingAndGlyphs">1.5</text>
<text x="201.55" y="466.65" textLength="13.81" lengthAdjust="spacingAndGlyphs">−</text>
<text x="215.06" y="465.00" textLength="12.19" lengthAdjust="spacingAndGlyphs">1</text>
<text x="307.35" y="466.65" textLength="13.90" lengthAdjust="spacingAndGlyphs">−</text>
<text x="321.57" y="465.00" textLength="29.67" lengthAdjust="spacingAndGlyphs">0.5</text>
<text x="439.74" y="465.00" textLength="13.52" lengthAdjust="spacingAndGlyphs">0</text>
<text x="547.10" y="465.00" textLength="29.89" lengthAdjust="spacingAndGlyphs">0.5</text>
<text x="669.54" y="465.00" textLength="11.91" lengthAdjust="spacingAndGlyphs">1</text>
<text x="776.32" y="465.00" textLength="30.62" lengthAdjust="spacingAndGlyphs">1.5</text>
<text x="435.75" y="499.30" textLength="15.24" lengthAdjust="spacingAndGlyphs">Δ</text>
<text x="511.90" y="349.80" textLength="15.14" lengthAdjust="spacingAndGlyphs">S</text>
<text x="525.17" y="356.20" textLength="9.82" lengthAdjust="spacingAndGlyphs" style="font-size:18.0px">z</text>
<text x="540.02" y="351.80" textLength="14.80" lengthAdjust="spacingAndGlyphs">=</text>
<text x="559.96" y="349.80" textLength="12.33" lengthAdjust="spacingAndGlyphs">9</text>
<text x="511.90" y="372.90" textLength="15.14" lengthAdjust="spacingAndGlyphs">S</text>
<text x="525.17" y="379.30" textLength="9.82" lengthAdjust="spacingAndGlyphs" style="font-size:18.0px">z</text>
<text x="540.02" y="374.90" textLength="14.80" lengthAdjust="spacingAndGlyphs">=</text>
<text x="559.06" y="372.90" textLength="12.85" lengthAdjust="spacingAndGlyphs">7</text>
<text x="511.90" y="395.90" textLength="15.14" lengthAdjust="spacingAndGlyphs">S</text>
<text x="525.17" y="402.30" textLength="9.82" lengthAdjust="spacingAndGlyphs" style="font-size:18.0px">z</text>
<text x="540.02" y="397.90" textLength="14.80" lengthAdjust="spacingAndGlyphs">=</text>
<text x="559.13" y="395.90" textLength="13.04" lengthAdjust="spacingAndGlyphs">5</text>
<text x="511.90" y="419.00" textLength="15.14" lengthAdjust="spacingAndGlyphs">S</text>
<text x="525.17" y="425.40" textLength="9.82" lengthAdjust="spacingAndGlyphs" style="font-size:18.0px">z</text>
<text x="540.02" y="421.00" textLength="14.80" lengthAdjust="spacingAndGlyphs">=</text>
<text x="559.50" y="419.00" textLength="12.73" lengthAdjust="spacingAndGlyphs">3</text>
<text x="714.67" y="349.80" textLength="15.08" lengthAdjust="spacingAndGlyphs">S</text>
<text x="728.13" y="356.20" textLength="9.83" lengthAdjust="spacingAndGlyphs" style="font-size:18.0px">z</text>
<text x="742.77" y="351.80" textLength="14.79" lengthAdjust="spacingAndGlyphs">=</text>
<text x="761.43" y="349.80" textLength="12.76" lengthAdjust="spacingAndGlyphs">1</text>
<text x="714.67" y="372.90" textLength="15.08" lengthAdjust="spacingAndGlyphs">S</text>
<text x="728.13" y="379.30" textLength="9.83" lengthAdjust="spacingAndGlyphs" style="font-size:18.0px">z</text>
<text x="742.77" y="374.90" textLength="14.79" lengthAdjust="spacingAndGlyphs">=</text>
<text x="762.76" y="372.90" textLength="12.37" lengthAdjust="spacingAndGlyphs">0</text>
<text x="719.33" y="397.90" textLength="55.29" lengthAdjust="spacingAndGlyphs">Exact</text>
<text x="714.77" y="421.40" textLength="60.82" lengthAdjust="spacingAndGlyphs">sAGP</text>
<text transform="translate(29.8,386.80) rotate(-90)" x="99.02" textLength="71.87" lengthAdjust="spacingAndGlyphs">Energy</text>
</svg>
</body></html>
